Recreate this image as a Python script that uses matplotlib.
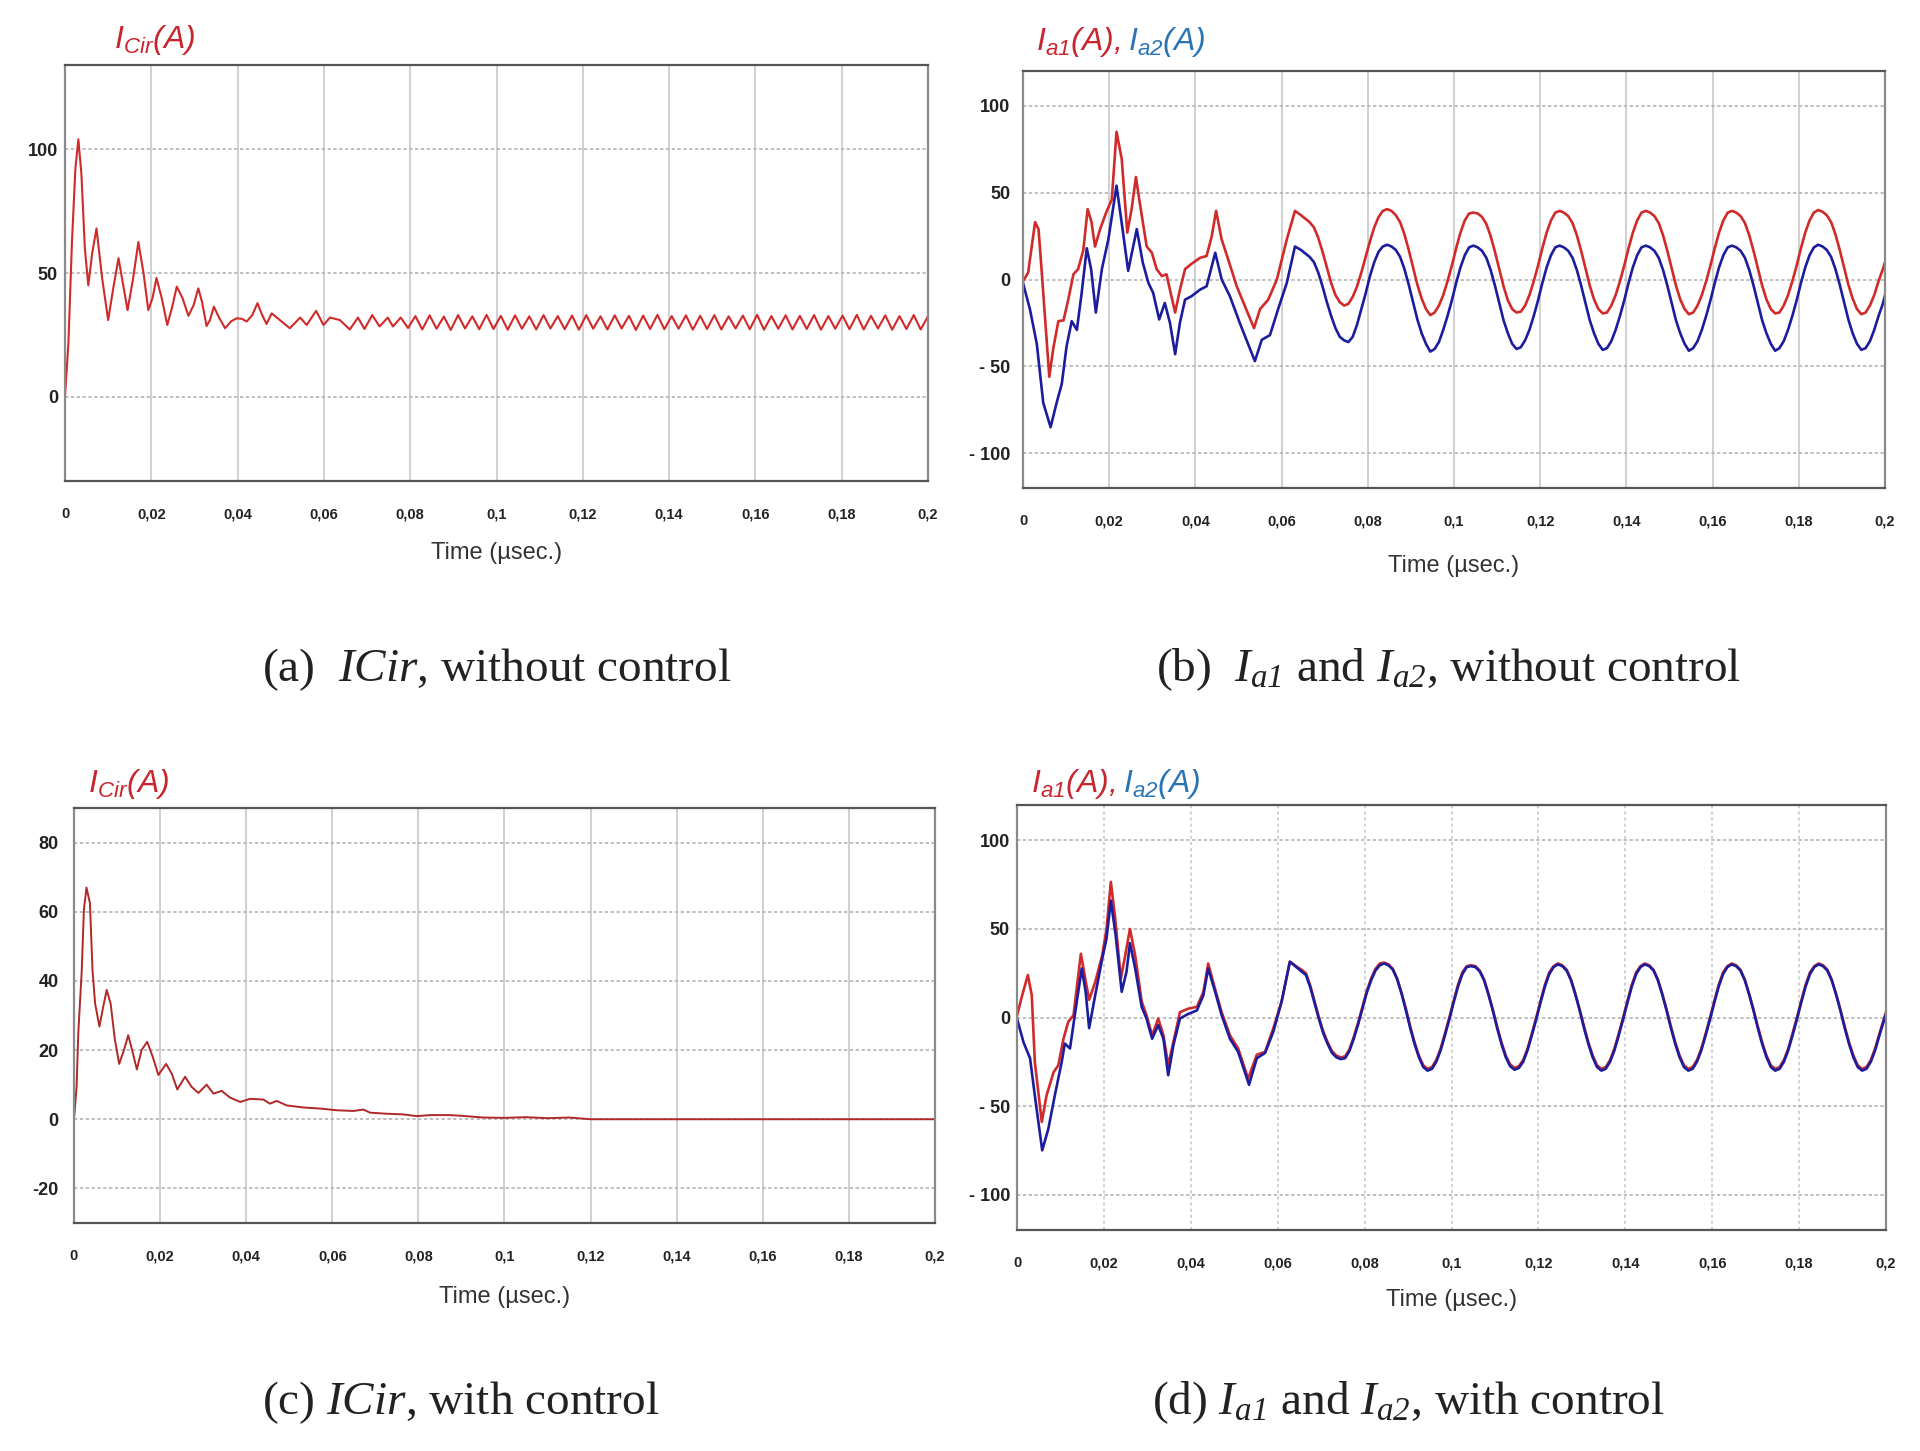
"""Circulating current and arm currents, with and without control (4 panels)."""
import matplotlib

matplotlib.use("Agg")
import matplotlib.pyplot as plt
import numpy as np

plt.rcParams["mathtext.fontset"] = "custom"
plt.rcParams["mathtext.rm"] = "Liberation Serif"
plt.rcParams["mathtext.it"] = "Liberation Serif:italic"
plt.rcParams["mathtext.tt"] = "Liberation Serif:italic"  # italic subscripts incl. digits
plt.rcParams["mathtext.sf"] = "Liberation Sans:italic"

# ---- shared axis data ----
x_ticks = [0, 0.02, 0.04, 0.06, 0.08, 0.1, 0.12, 0.14, 0.16, 0.18, 0.2]
x_tick_labels = ["0", "0,02", "0,04", "0,06", "0,08", "0,1", "0,12", "0,14", "0,16", "0,18", "0,2"]

# sample instants of the periodic part in panels (b) and (d)
steady_t = np.linspace(0.0645, 0.2005, 137)

# ---- (a) ICir without control ----
a_time = [0, 0.0008, 0.0016, 0.0024, 0.0031, 0.0038, 0.0046, 0.0054, 0.0063, 0.0073,
          0.0086, 0.0100, 0.0112, 0.0124, 0.0135, 0.0145, 0.0158, 0.0170, 0.0182, 0.0193,
          0.0203, 0.0212, 0.0224, 0.0237, 0.0248, 0.0259, 0.0272, 0.0286, 0.0298, 0.0309,
          0.0318, 0.0328, 0.0336, 0.0345, 0.0357, 0.0371, 0.0385, 0.0398, 0.0410, 0.0421,
          0.0434, 0.0446, 0.0457, 0.0467, 0.0479, 0.0498, 0.0521, 0.0545, 0.0560, 0.0582,
          0.0599, 0.0614, 0.0637, 0.0660, 0.0679, 0.0694, 0.0712, 0.0729, 0.0748, 0.0760,
          0.0778,
          0.0795, 0.0812, 0.0828, 0.0845, 0.0861, 0.0878, 0.0894, 0.0911, 0.0927, 0.0944,
          0.0960, 0.0977, 0.0993, 0.1010, 0.1026, 0.1043, 0.1059, 0.1076, 0.1092, 0.1109,
          0.1125, 0.1142, 0.1158, 0.1175, 0.1191, 0.1208, 0.1224, 0.1241, 0.1257, 0.1274,
          0.1290, 0.1307, 0.1323, 0.1340, 0.1356, 0.1373, 0.1389, 0.1406, 0.1422, 0.1439,
          0.1455, 0.1472, 0.1488, 0.1505, 0.1521, 0.1538, 0.1554, 0.1571, 0.1587, 0.1604,
          0.1620, 0.1637, 0.1653, 0.1670, 0.1686, 0.1703, 0.1719, 0.1736, 0.1752, 0.1769,
          0.1785, 0.1802, 0.1818, 0.1835, 0.1851, 0.1868, 0.1884, 0.1901, 0.1917, 0.1934,
          0.1950, 0.1967, 0.1983, 0.2000]
a_icir = [0, 22, 62, 92, 104, 90, 60, 45, 58, 68,
          48, 31, 44, 56, 45, 35, 48, 62.5, 50, 35,
          40, 48, 40, 29, 36, 44.5, 40, 32.7, 37, 43.8,
          38, 28.6, 31, 36.4, 32, 27.7, 30.5, 31.7, 31.5, 30.4,
          33, 37.8, 33, 29.4, 33.7, 31, 27.7, 32, 29, 34.7,
          29, 32, 31, 27.2, 32, 27.4, 33, 28.4, 32, 28.4,
          32,
          27.8, 32.6, 27.2, 32.9, 27.5, 32.4, 27.0, 33.0, 27.6, 32.5,
          27.3, 33.1, 27.4, 32.7, 27.1, 32.9, 27.5, 32.5, 27.2, 33.0,
          27.6, 32.6, 27.3, 32.8, 27.1, 33.0, 27.5, 32.5, 27.2, 32.9,
          27.6, 32.7, 27.0, 32.8, 27.4, 33.1, 27.3, 32.6, 27.5, 32.9,
          27.1, 32.7, 27.4, 33.0, 27.2, 32.5, 27.6, 32.8, 27.3, 33.1,
          27.1, 32.6, 27.5, 32.9, 27.2, 32.7, 27.4, 33.0, 27.1, 32.6,
          27.5, 32.8, 27.3, 33.1, 27.2, 32.7, 27.6, 32.9, 27.1, 32.6,
          27.4, 33.0, 27.2, 32.5]

# ---- (b) Ia1, Ia2 without control ----
b_ia1_time = [0, 0.0012, 0.0028, 0.0036, 0.0043, 0.0061, 0.0070, 0.0082, 0.0094, 0.0105,
              0.0117, 0.0128, 0.0140, 0.0150, 0.0159, 0.0167, 0.0179, 0.0193, 0.0206, 0.0217,
              0.0229, 0.0242, 0.0252, 0.0262, 0.0271, 0.0287, 0.0299, 0.0310, 0.0322, 0.0333,
              0.0341, 0.0353, 0.0364, 0.0376, 0.0391, 0.0411, 0.0426, 0.0438, 0.0448, 0.0461,
              0.0476, 0.0496, 0.0515, 0.0536, 0.0550, 0.0569, 0.0589, 0.0612, 0.0631]
b_ia1_start = [-1, 4, 33, 29, 6, -56, -40, -24, -23.5, -11.6,
               3, 6, 17, 40.5, 33, 19, 29, 38.6, 46, 85,
               69.5, 27, 40.5, 59, 44, 19, 15.4, 6, 2, 3,
               -6, -19, -6, 6, 9, 12.5, 13.5, 25, 39.5, 23,
               11.6, -4, -15.4, -28, -17, -11.6, 0, 23, 39.5]
b_ia1_steady = [37, 35, 33, 30, 24, 16, 7, -2, -9, -13, -15, -14, -10, -4, 4, 13, 22, 30, 36, 39.5,
                40.5, 39.5, 37, 33, 26, 17, 7, -3, -11, -17, -20.5, -19, -15, -9, -1, 8, 18, 27, 34, 38,
                38.5, 38, 36, 32, 25, 16, 6, -4, -12, -17, -19, -18.5, -15, -9, -1, 8, 18, 27, 34, 38.5,
                39.5, 38.5, 36.5, 32.5, 25.5, 16.5, 6.5, -3.5, -11.5, -17, -19.5, -19, -15, -9, -1, 8, 18, 27, 34, 38.5,
                39.5, 38.5, 36.5, 32.5, 25.5, 16.5, 6.5, -3.5, -11.5, -17, -20, -19, -15, -9, -1, 8, 18, 27, 34, 38.5,
                39.5, 38.5, 36.5, 32.5, 25.5, 16.5, 6.5, -3.5, -11.5, -17, -19.5, -19, -15, -9, -1, 8, 18, 27, 34, 38.5,
                40, 39, 37, 33, 26, 17, 7, -3, -11, -17, -20, -19, -15, -9, -1, 6, 14]

b_ia2_time = [0, 0.0016, 0.0032, 0.0047, 0.0064, 0.0078, 0.0090, 0.0101, 0.0113, 0.0125,
              0.0136, 0.0148, 0.0158, 0.0169, 0.0183, 0.0198, 0.0217, 0.0231, 0.0244, 0.0264,
              0.0278, 0.0291, 0.0302, 0.0316, 0.0329, 0.0341, 0.0353, 0.0364, 0.0376, 0.0391,
              0.0411, 0.0426, 0.0446, 0.0461, 0.0480, 0.0503, 0.0538, 0.0554, 0.0573, 0.0592,
              0.0612, 0.0631]
b_ia2_start = [-2, -17, -37, -71, -85, -71, -60, -38.6, -24, -29,
               -8, 18, 6, -19, 6, 23, 54, 29, 5, 29,
               9.6, -2, -7.7, -23, -13.5, -25, -43, -25, -11.6, -9.6,
               -5.8, -3.9, 15.4, 0, -9.6, -25, -47, -34.7, -32, -17,
               -2, 19]
b_ia2_steady = [17, 15, 13, 10, 4, -4, -13, -21, -28, -33, -35, -36, -33, -26, -17, -8, 2, 10, 16, 19,
                20, 19, 17, 13, 6, -3, -13, -23, -31, -37, -41.5, -40, -36, -29, -21, -12, -2, 7, 14, 18.5,
                19.5, 18.5, 16.5, 12.5, 5.5, -3.5, -13.5, -23.5, -31, -37, -40, -39, -35, -29, -21, -12, -2, 7, 14, 18.5,
                19.5, 18.5, 16.5, 12.5, 5.5, -3.5, -13.5, -23.5, -31, -37, -40.5, -39.5, -35.5, -29, -21, -12, -2, 7, 14, 18.5,
                19.5, 18.5, 16.5, 12.5, 5.5, -3.5, -13.5, -23.5, -31, -37, -41, -39.5, -35.5, -29, -21, -12, -2, 7, 14, 18.5,
                19.5, 18.5, 16.5, 12.5, 5.5, -3.5, -13.5, -23.5, -31, -37, -41, -39.5, -35.5, -29, -21, -12, -2, 7, 14, 18.5,
                20, 19, 17, 13, 6, -3, -13, -23, -31, -37, -40.5, -39.5, -35.5, -29, -21, -14, -4]

# ---- (c) ICir with control ----
c_time = [0, 0.0006, 0.0010, 0.0018, 0.0023, 0.0029, 0.0037, 0.0043, 0.0049, 0.0059,
          0.0068, 0.0076, 0.0085, 0.0095, 0.0105, 0.0116, 0.0126, 0.0136, 0.0146, 0.0157,
          0.0170, 0.0183, 0.0196, 0.0214, 0.0227, 0.0240, 0.0258, 0.0273, 0.0289, 0.0308,
          0.0324, 0.0343, 0.0362, 0.0386, 0.0409, 0.0440, 0.0455, 0.0471, 0.0494, 0.0533,
          0.0571, 0.0610, 0.0649, 0.0672, 0.0688, 0.0726, 0.0765, 0.0796, 0.0827, 0.0873,
          0.0900, 0.0950, 0.1000, 0.1050, 0.1100, 0.1150, 0.1200, 0.2000]
c_icir = [0, 9.4, 25, 43, 60.6, 67, 62.5, 43, 33.5, 26.8,
          32.6, 37.4, 33.5, 23, 16, 20, 24.3, 19.5, 14.4, 20,
          22.4, 18, 12.8, 16, 13.2, 8.6, 12.3, 9.4, 7.6, 10,
          7.4, 8.2, 6.3, 5, 5.9, 5.7, 4.5, 5.3, 4, 3.4,
          3.1, 2.6, 2.4, 2.8, 1.9, 1.6, 1.4, 0.9, 1.2, 1.2,
          1.0, 0.5, 0.4, 0.6, 0.3, 0.5, 0, 0]

# ---- (d) Ia1, Ia2 with control ----
d_ia1_time = [0, 0.0012, 0.0025, 0.0034, 0.0041, 0.0057, 0.0068, 0.0084, 0.0095, 0.0107,
              0.0118, 0.0130, 0.0147, 0.0157, 0.0166, 0.0180, 0.0196, 0.0206, 0.0216, 0.0226,
              0.0239, 0.0249, 0.0260, 0.0272, 0.0287, 0.0298, 0.0311, 0.0325, 0.0337, 0.0348,
              0.0360, 0.0375, 0.0394, 0.0414, 0.0429, 0.0440, 0.0456, 0.0471, 0.0490, 0.0509,
              0.0532, 0.0552, 0.0571, 0.0590, 0.0609, 0.0628]
d_ia1_start = [1, 12.6, 24, 12.6, -25, -59, -44, -31, -27, -12,
               -2.4, 1.3, 36, 22, 10, 20, 35, 50, 76.6, 56,
               22, 35, 50, 35, 9, 1.3, -10, -0.6, -10, -27,
               -13.7, 3, 5, 6, 14.5, 30.5, 16, 3, -10, -17.5,
               -34.5, -21, -19.4, -6, 9, 31.5]
d_ia1_steady = [28.5, 27, 25, 18, 9, 0, -8, -14, -19, -21.5, -22.5, -22, -18, -11, -3, 6, 15, 22, 27.5, 30.5,
                31, 30, 27.5, 22, 14, 5, -5, -14, -21.5, -27, -29, -28, -24, -17.5, -9, 0, 9.5, 18.5, 25.5, 29,
                29.5, 29, 26.5, 21.5, 13.5, 4.5, -5, -14, -21.5, -26.5, -28.5, -27.5, -24, -17.5, -9, 0, 9.5, 18.5, 25.5, 29,
                30.5, 29.5, 27, 21.5, 13.5, 4.5, -5, -14, -21.5, -27, -29, -28, -24, -17.5, -9, 0, 9.5, 18.5, 25.5, 29,
                30.5, 29.5, 27, 21.5, 13.5, 4.5, -5, -14, -21.5, -27, -29, -28, -24, -17.5, -9, 0, 9.5, 18.5, 25.5, 29,
                30.5, 29.5, 27, 21.5, 13.5, 4.5, -5, -14, -21.5, -27, -29, -28, -24, -17.5, -9, 0, 9.5, 18.5, 25.5, 29,
                30.5, 29.5, 27, 21.5, 13.5, 4.5, -5, -14, -21.5, -27, -29, -28, -24, -17.5, -9, -1, 7]

d_ia2_time = [0, 0.0015, 0.0030, 0.0041, 0.0058, 0.0072, 0.0087, 0.0103, 0.0110, 0.0122,
              0.0133, 0.0149, 0.0158, 0.0166, 0.0180, 0.0196, 0.0206, 0.0216, 0.0227, 0.0241,
              0.0252, 0.0260, 0.0272, 0.0287, 0.0298, 0.0311, 0.0325, 0.0337, 0.0348, 0.0360,
              0.0375, 0.0394, 0.0414, 0.0429, 0.0440, 0.0456, 0.0471, 0.0490, 0.0509, 0.0534,
              0.0552, 0.0571, 0.0590, 0.0609, 0.0628]
d_ia2_start = [-0.6, -14, -23, -44, -75, -63, -44, -25, -14.7, -17.5,
               1.3, 27.7, 14.5, -6, 12.6, 33, 44.6, 66, 46.5, 14.5,
               25.8, 42, 27.7, 6, -0.6, -12, -4.3, -12, -32.6, -15.6,
               -0.6, 2, 4, 12.6, 27.7, 14.5, 1.3, -12, -19.4, -38,
               -23, -20, -8, 9, 31.5]
d_ia2_steady = [28, 26, 24, 17, 8, -1, -9, -15, -20, -22.5, -23.5, -23, -19, -12, -4, 5, 14, 21, 26.5, 29.5,
                30.5, 29.5, 27, 21.5, 13.5, 4, -6, -15, -22.5, -28, -30, -29, -25, -18.5, -10, -1, 8.5, 17.5, 24.5, 28.5,
                29, 28.5, 26, 21, 13, 4, -6, -15, -22.5, -27.5, -29.5, -28.5, -25, -18.5, -10, -1, 8.5, 17.5, 24.5, 28.5,
                30, 29, 26.5, 21, 13, 4, -6, -15, -22.5, -28, -30, -29, -25, -18.5, -10, -1, 8.5, 17.5, 24.5, 28.5,
                30, 29, 26.5, 21, 13, 4, -6, -15, -22.5, -28, -30, -29, -25, -18.5, -10, -1, 8.5, 17.5, 24.5, 28.5,
                30, 29, 26.5, 21, 13, 4, -6, -15, -22.5, -28, -30, -29, -25, -18.5, -10, -1, 8.5, 17.5, 24.5, 28.5,
                30, 29, 26.5, 21, 13, 4, -6, -15, -22.5, -28, -30, -29, -25, -18.5, -10, -2, 6]

RED = "#d02a2a"
BLUE = "#1c1c9e"
TITLE_RED = "#c8262e"
TITLE_BLUE = "#2a74b4"
W, H = 1920, 1451
TITLE_SIZE = 23


def px_rect(left, top, right, bottom):
    """Axes rectangle from pixel edges (origin top-left)."""
    return [left / W, 1 - bottom / H, (right - left) / W, (bottom - top) / H]


def style_axes(ax, ylim, yticks, ylabels, ypad, vgrid_ls, xlabel_pad):
    ax.set_xlim(0, 0.2)
    ax.set_ylim(*ylim)
    ax.set_xticks(x_ticks)
    ax.set_xticklabels(x_tick_labels, fontsize=10.5, fontweight="bold", family="Liberation Sans")
    ax.set_yticks(yticks)
    ax.set_yticklabels(ylabels, fontsize=13, fontweight="bold", family="Liberation Sans")
    ax.tick_params(axis="x", length=0, pad=19, colors="#222222")
    ax.tick_params(axis="y", length=0, pad=ypad, colors="#222222")
    for x in x_ticks[1:-1]:
        ax.axvline(x, color="#c4c4c4", lw=1.1, ls=vgrid_ls, zorder=0)
    for y in yticks:
        ax.axhline(y, color="#b4b4b4", lw=1.2, ls=(0, (2, 1.5)), zorder=0)
    for side, sp in ax.spines.items():
        sp.set_color("#555555" if side in ("top", "bottom") else "#8a8a8a")
        sp.set_linewidth(1.6)
    ax.set_xlabel("Time (µsec.)", fontsize=17, family="Liberation Sans",
                  color="#333333", labelpad=xlabel_pad)


def arm_title(fig, x, y):
    """Red 'Ia1(A),' followed by blue 'Ia2(A)' on one baseline."""
    first = fig.text(x / W, 1 - y / H, r"$\mathsf{I_{a1}(A),}$", color=TITLE_RED,
                     fontsize=TITLE_SIZE, va="baseline")
    fig.canvas.draw()
    bb = first.get_window_extent()
    fig.text((bb.x1 + 7) / W, 1 - y / H, r"$\mathsf{I_{a2}(A)}$", color=TITLE_BLUE,
             fontsize=TITLE_SIZE, va="baseline")


def main():
    fig = plt.figure(figsize=(19.2, 14.51), dpi=100)

    # (a)
    ax_a = fig.add_axes(px_rect(65, 65, 928, 481))
    ax_a.plot(a_time, a_icir, color=RED, lw=1.5)
    style_axes(ax_a, (-34, 134), [0, 50, 100], ["0", "50", "100"], 5, "-", 14.5)
    fig.text(114 / W, 1 - 48 / H, r"$\mathsf{I_{Cir}(A)}$", color=TITLE_RED,
             fontsize=TITLE_SIZE, va="baseline")

    # (b)
    ax_b = fig.add_axes(px_rect(1023, 71, 1885, 488))
    ax_b.plot(np.concatenate([b_ia1_time, steady_t]), np.concatenate([b_ia1_start, b_ia1_steady]),
              color=RED, lw=1.9)
    ax_b.plot(np.concatenate([b_ia2_time, steady_t]), np.concatenate([b_ia2_start, b_ia2_steady]),
              color=BLUE, lw=1.9)
    style_axes(ax_b, (-120, 120), [-100, -50, 0, 50, 100],
               ["- 100", "- 50", "0", "50", "100"], 9, "-", 19)
    arm_title(fig, 1036, 50)

    # (c)
    ax_c = fig.add_axes(px_rect(74, 808, 935, 1223))
    ax_c.plot(c_time, c_icir, color="#b02828", lw=1.4)
    style_axes(ax_c, (-30, 90), [-20, 0, 20, 40, 60, 80],
               ["-20", "0", "20", "40", "60", "80"], 11, "-", 16.5)
    fig.text(88 / W, 1 - 792 / H, r"$\mathsf{I_{Cir}(A)}$", color=TITLE_RED,
             fontsize=TITLE_SIZE, va="baseline")

    # (d)
    ax_d = fig.add_axes(px_rect(1017, 805, 1886, 1230))
    ax_d.plot(np.concatenate([d_ia1_time, steady_t]), np.concatenate([d_ia1_start, d_ia1_steady]),
              color=RED, lw=1.9)
    ax_d.plot(np.concatenate([d_ia2_time, steady_t]), np.concatenate([d_ia2_start, d_ia2_steady]),
              color=BLUE, lw=1.9)
    style_axes(ax_d, (-120, 120), [-100, -50, 0, 50, 100],
               ["- 100", "- 50", "0", "50", "100"], 5, (0, (2, 2)), 13.5)
    arm_title(fig, 1031, 792)

    # captions
    cap = dict(fontsize=34, family="Liberation Serif", color="#222222", va="baseline")
    fig.text(262 / W, 1 - 681 / H, r"(a)  $\mathit{ICir}$, without control", **cap)
    fig.text(1156 / W, 1 - 681 / H,
             r"(b)  $I_{\mathtt{a1}}$ and $I_{\mathtt{a2}}$, without control", **cap)
    fig.text(262 / W, 1 - 1414 / H, r"(c) $\mathit{ICir}$, with control", **cap)
    fig.text(1152 / W, 1 - 1414 / H,
             r"(d) $I_{\mathtt{a1}}$ and $I_{\mathtt{a2}}$, with control", **cap)

    fig.savefig("out.png", dpi=100)


if __name__ == "__main__":
    main()
